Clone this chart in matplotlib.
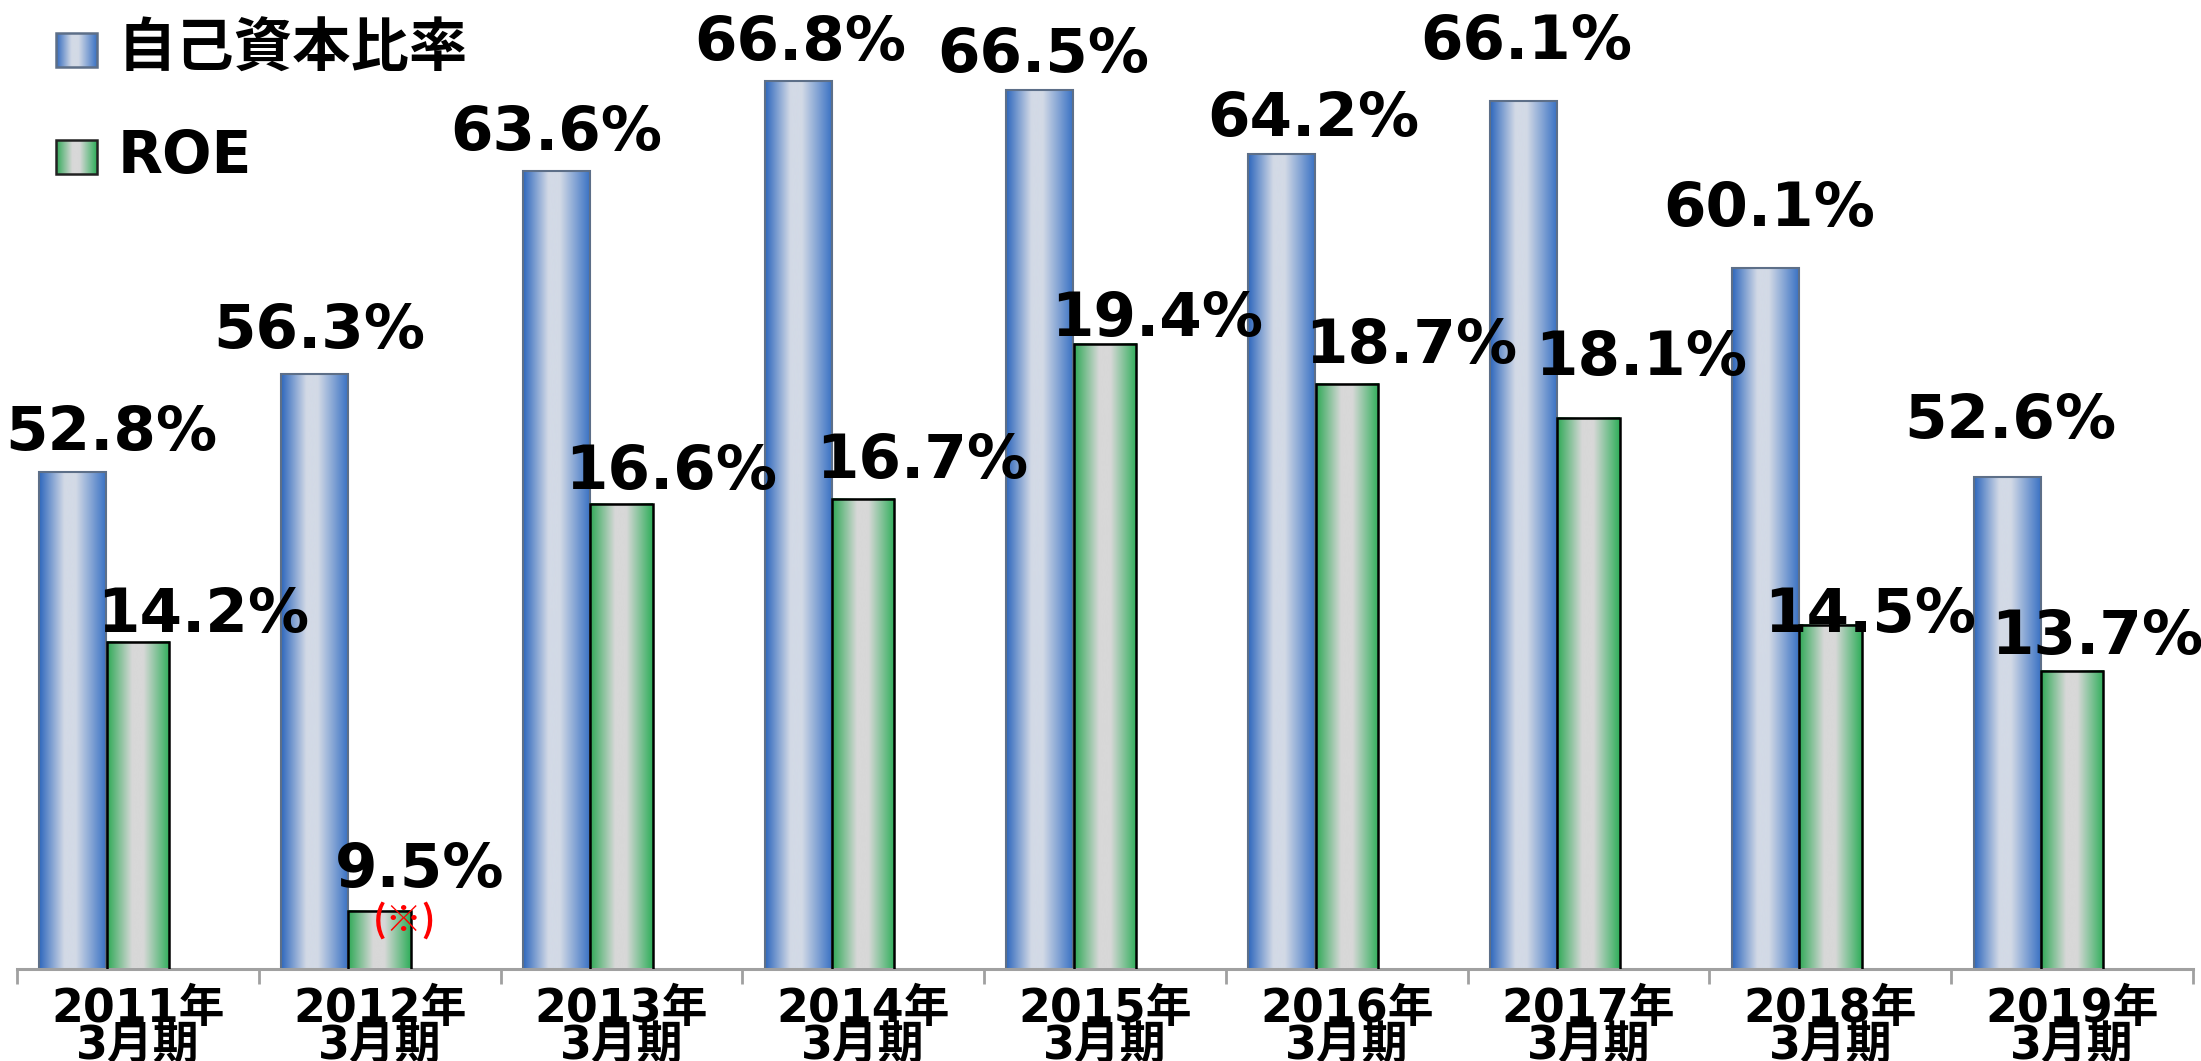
import numpy as np
import matplotlib
matplotlib.use('Agg')
import matplotlib.pyplot as plt
from matplotlib.colors import LinearSegmentedColormap
from matplotlib.patches import Rectangle

# データ
periods = ['2011年\n3月期', '2012年\n3月期', '2013年\n3月期', '2014年\n3月期', '2015年\n3月期',
           '2016年\n3月期', '2017年\n3月期', '2018年\n3月期', '2019年\n3月期']
equity_ratio = [52.8, 56.3, 63.6, 66.8, 66.5, 64.2, 66.1, 60.1, 52.6]
roe = [14.2, 9.5, 16.6, 16.7, 19.4, 18.7, 18.1, 14.5, 13.7]

# ラベルの位置調整 (px)
eq_dx = [39, 5, 0, 2, 3, 32, 3, 4, 3]
eq_gap = [22, 26, 21, 21, 18, 18, 42, 42, 39]
roe_dx = [65, 40, 50, 59, 52, 64, 53, 40, 25]
roe_gap = [10, 24, 15, 21, 8, 21, 43, -7, 17]

PT = 0.72  # px -> pt (dpi=100)
JP = ['DejaVu Sans', 'Noto Sans CJK JP']

blue_cmap = LinearSegmentedColormap.from_list(
    'blu', [(0, '#2e67bd'), (0.38, '#d3dae6'), (0.55, '#d3dae6'), (1, '#3a72c4')])
green_cmap = LinearSegmentedColormap.from_list(
    'grn', [(0, '#2fa956'), (0.4, '#d8d8d8'), (0.58, '#d8d8d8'), (1, '#2fae5a')])

fig = plt.figure(figsize=(22.01, 10.61), dpi=100)
ax = fig.add_axes([17/2201, 92.5/1061, 2176/2201, 968.5/1061])
ax2 = ax.twinx()

x = np.arange(len(periods)) + 0.5
ylim1 = (35, 35 + 968.5/27.9)
ylim2 = (8.5, 8.5 + 968.5/57.3)
grad = np.linspace(0, 1, 256).reshape(1, -1)


def gradient_bars(a, bars, cmap, ybot, edge, lw):
    for r in bars:
        x0, w, top = r.get_x(), r.get_width(), r.get_height()
        a.imshow(grad, extent=(x0, x0 + w, ybot, top), aspect='auto', cmap=cmap,
                 interpolation='bicubic', zorder=1.5)
        r.set_facecolor('none')
        r.set_edgecolor(edge)
        r.set_linewidth(lw)
        r.set_zorder(2)


b1 = ax.bar(x - 0.269, equity_ratio, width=0.277)
gradient_bars(ax, b1, blue_cmap, ylim1[0], '#5d6f88', 1.5)
b2 = ax2.bar(x, roe, width=0.258)
gradient_bars(ax2, b2, green_cmap, ylim2[0], 'black', 1.8)

ax.set_xlim(0, len(periods))
ax.set_ylim(*ylim1)
ax2.set_ylim(*ylim2)

for a in (ax, ax2):
    for s in ['left', 'right', 'top']:
        a.spines[s].set_visible(False)
    a.set_yticks([])
ax2.spines['bottom'].set_visible(False)
ax.spines['bottom'].set_color('#a0a0a0')
ax.spines['bottom'].set_linewidth(2.2)

ax.set_xticks(x, periods)
ax.set_xticks(np.arange(len(periods) + 1), minor=True)
ax.tick_params(axis='x', which='major', length=0, pad=13)
ax.tick_params(axis='x', which='minor', length=11, width=2, color='#a0a0a0')
for lab in ax.get_xticklabels():
    lab.set_family(JP)
    lab.set_fontsize(33)
    lab.set_fontweight('bold')
    lab.set_linespacing(0.78)

# 数値ラベル
for i in range(len(periods)):
    ax2.annotate(f'{equity_ratio[i]:.1f}%', xy=(x[i] - 0.269, equity_ratio[i]), xycoords=ax.transData,
                 xytext=(eq_dx[i]*PT, eq_gap[i]*PT), textcoords='offset points',
                 ha='center', va='baseline', fontsize=44, fontweight='bold', zorder=5)
    ax2.annotate(f'{roe[i]:.1f}%', xy=(x[i], roe[i]),
                 xytext=(roe_dx[i]*PT, roe_gap[i]*PT), textcoords='offset points',
                 ha='center', va='baseline', fontsize=44, fontweight='bold', zorder=5)

ax2.annotate('(※)', xy=(x[1], roe[1]), xytext=(25*PT, -9*PT), textcoords='offset points',
             ha='center', va='center', fontsize=26, color='red', fontweight='bold',
             family=['Noto Sans CJK JP', 'DejaVu Sans'], zorder=6)

# 凡例
ov = fig.add_axes([0, 0, 1, 1], zorder=10)
ov.set_xlim(0, 2201)
ov.set_ylim(1061, 0)
ov.axis('off')
legend_items = [('自己資本比率', blue_cmap, '#5d6f88', 33), ('ROE', green_cmap, '#222222', 140)]
for name, cmap, edge, y0 in legend_items:
    ov.imshow(grad, extent=(56, 97, y0 + 34, y0), aspect='auto', cmap=cmap, interpolation='bicubic')
    ov.add_patch(Rectangle((56, y0), 41, 34, facecolor='none', edgecolor=edge, lw=1.8))
    ov.text(118, y0 + 17, name, fontsize=42, fontweight='bold', family=JP, va='center', ha='left')
ov.set_xlim(0, 2201)
ov.set_ylim(1061, 0)

fig.savefig('out.png', dpi=100)
